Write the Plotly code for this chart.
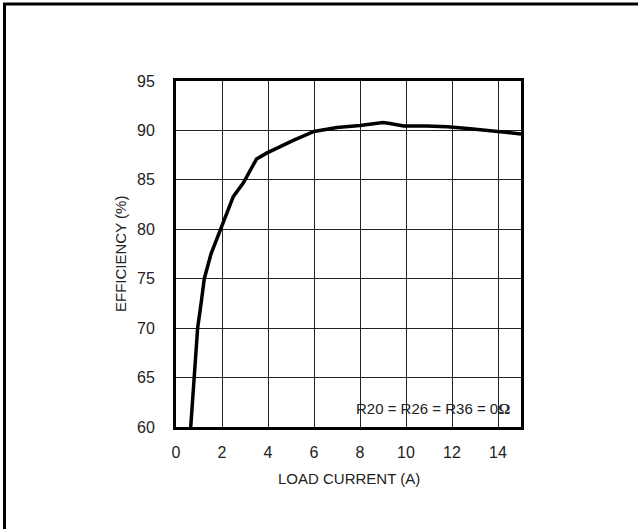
import plotly.graph_objects as go

# Data
load_current = [0.64, 0.78, 0.94, 1.09, 1.23, 1.52, 1.94, 2.09, 2.49, 2.93, 3.5, 3.94,
                5.1, 6.0, 7.0, 8.0, 9.0, 9.3, 9.9, 10.9, 11.8, 12.8, 13.8, 15.0]
efficiency = [60, 65, 70, 72.5, 75, 77.5, 80, 80.9, 83.3, 84.7, 87.1, 87.7,
              89.0, 89.9, 90.3, 90.5, 90.8, 90.7, 90.45, 90.45, 90.38, 90.18, 89.94, 89.65]
x_ticks = [0, 2, 4, 6, 8, 10, 12, 14]
y_ticks = [60, 65, 70, 75, 80, 85, 90, 95]

FONT = "Liberation Sans, Arial, sans-serif"
W, H = 638, 529
L, R, T, B = 176, 117, 81, 102
pw, ph = W - L - R, H - T - B

def px_x(px):
    return (px - L) / pw

def px_y(py):
    return (H - B - py) / ph

fig = go.Figure()
fig.add_trace(go.Scatter(x=load_current, y=efficiency, mode="lines",
                         line=dict(color="black", width=3.5), showlegend=False,
                         cliponaxis=True, hoverinfo="skip"))

axis_common = dict(showgrid=True, gridcolor="#222", gridwidth=1,
                   showline=True, linecolor="black", linewidth=3, mirror=True,
                   ticks="", zeroline=False,
                   tickfont=dict(family=FONT, size=16, color="#222"))

fig.update_xaxes(range=[0, 15], tickvals=x_ticks, ticklabelstandoff=9, **axis_common)
fig.update_yaxes(range=[60, 95], tickvals=y_ticks, ticklabelstandoff=15, **axis_common)

fig.add_annotation(text="EFFICIENCY (%)", xref="paper", yref="paper",
                   x=px_x(120), y=0.5, textangle=-90, showarrow=False,
                   xanchor="center", yanchor="middle",
                   font=dict(family=FONT, size=15, color="#222"))
fig.add_annotation(text="LOAD CURRENT (A)", xref="paper", yref="paper",
                   x=0.5, y=px_y(478), showarrow=False,
                   xanchor="center", yanchor="middle",
                   font=dict(family=FONT, size=15, color="#222"))
fig.add_annotation(text="R20 = R26 = R36 = 0<span style='font-family:Liberation Serif, serif;font-weight:bold'>Ω</span>",
                   xref="paper", yref="paper",
                   x=px_x(512), y=px_y(408), showarrow=False,
                   xanchor="right", yanchor="middle",
                   font=dict(family=FONT, size=15, color="#222"))

# outer figure frame (top and left edges)
fig.add_shape(type="line", xref="paper", yref="paper",
              x0=px_x(4.5), y0=px_y(540), x1=px_x(4.5), y1=px_y(4),
              line=dict(color="black", width=3))
fig.add_shape(type="line", xref="paper", yref="paper",
              x0=px_x(3), y0=px_y(4), x1=px_x(650), y1=px_y(4),
              line=dict(color="black", width=3))

fig.update_layout(width=W, height=H, margin=dict(l=L, r=R, t=T, b=B),
                  paper_bgcolor="white", plot_bgcolor="white", hovermode=False)

fig.write_html("out.html", config={"displayModeBar": False, "staticPlot": True},
               post_script="document.body.style.margin='0';document.body.style.overflow='hidden';")
